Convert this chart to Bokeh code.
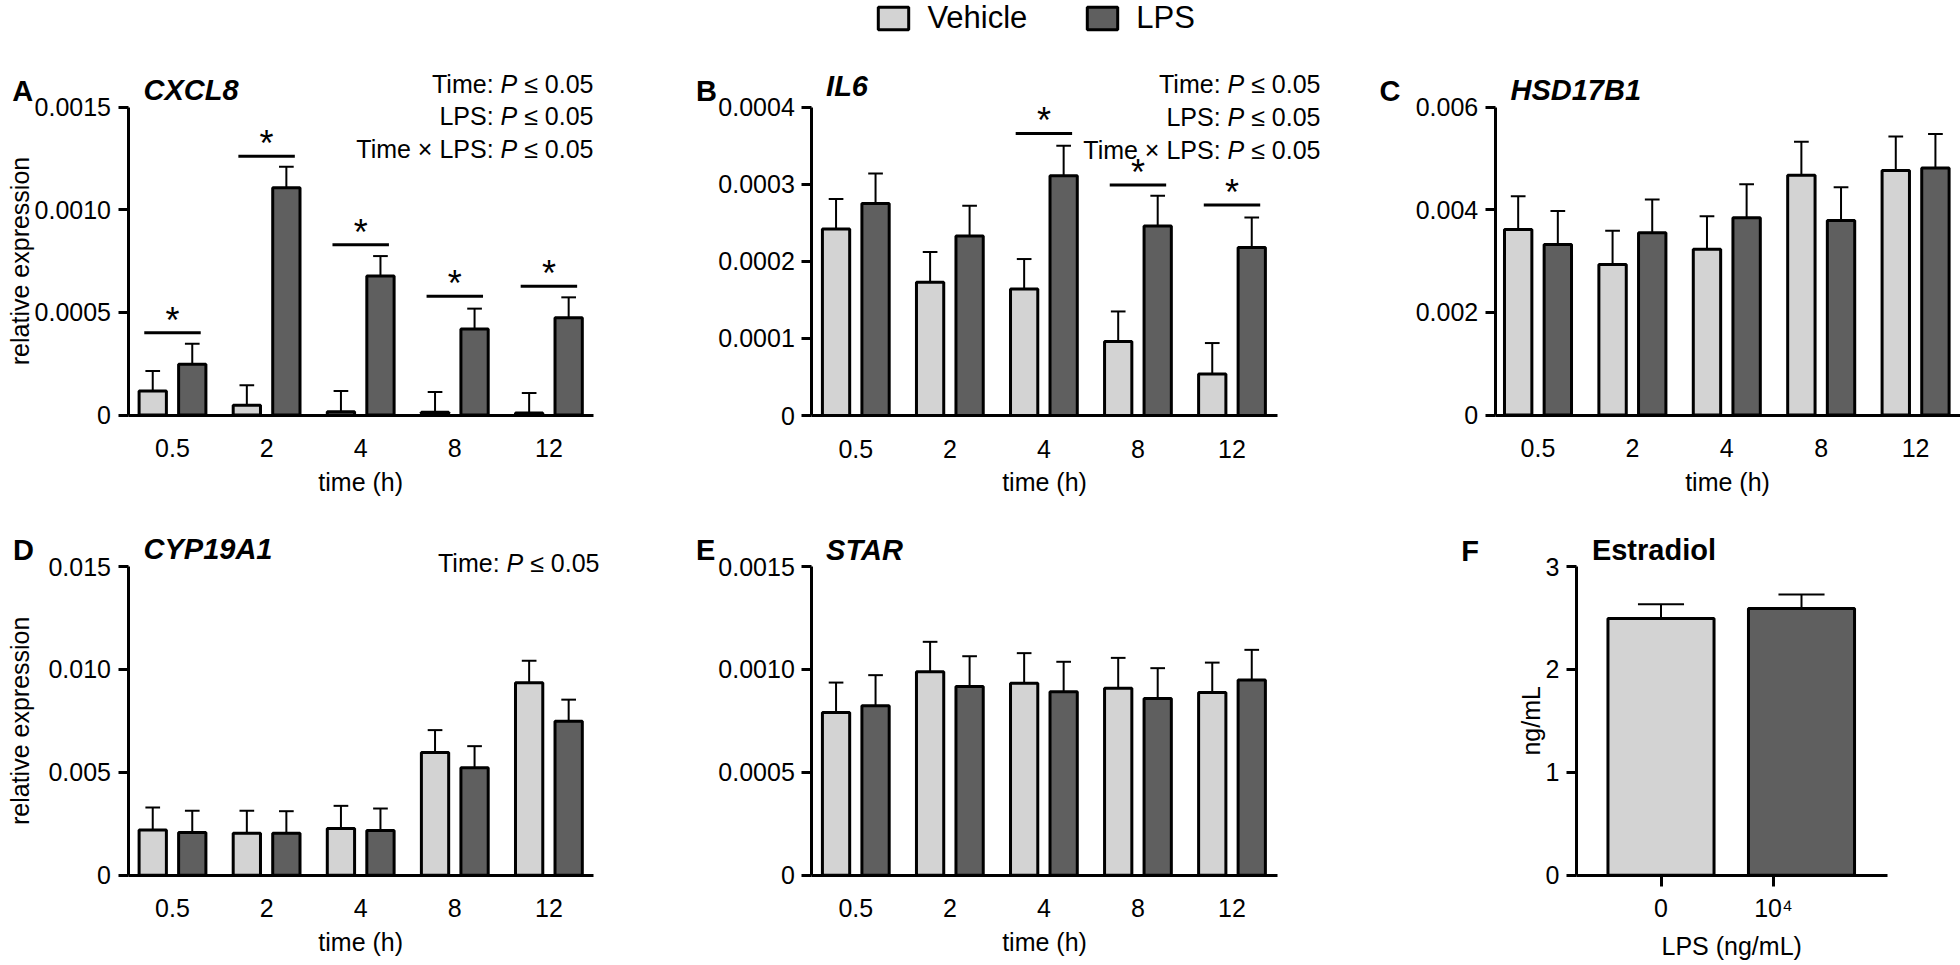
import math
from bokeh.plotting import figure
from bokeh.models import (Range1d, FixedTicker, Label, LabelSet, ColumnDataSource,
                          Legend, LegendItem, LinearAxis)
from bokeh.embed import file_html
from bokeh.resources import INLINE
from bokeh.core.properties import value

FONT = "Liberation Sans"
VEH_FILL = "#d3d3d3"
LPS_FILL = "#5f5f5f"

# ---------------- data ----------------
time_h = ["0.5", "2", "4", "8", "12"]

# A  CXCL8
cxcl8_vehicle = [0.000117, 0.000047, 0.000016, 0.000013, 0.000010]
cxcl8_vehicle_sem = [0.000097, 0.000098, 0.000101, 0.000099, 0.000097]
cxcl8_lps = [0.000247, 0.001107, 0.000677, 0.000419, 0.000474]
cxcl8_lps_sem = [0.000100, 0.000102, 0.000097, 0.000099, 0.000099]
cxcl8_sig_group = [0, 1, 2, 3, 4]
cxcl8_sig_level = [0.000401, 0.00126, 0.000829, 0.000578, 0.000627]

# B  IL6
il6_vehicle = [0.000242, 0.000173, 0.000164, 0.000096, 0.000054]
il6_vehicle_sem = [0.000039, 0.000039, 0.000039, 0.000039, 0.000040]
il6_lps = [0.000275, 0.000233, 0.000311, 0.000246, 0.000218]
il6_lps_sem = [0.000039, 0.000039, 0.000039, 0.000039, 0.000039]
il6_sig_group = [2, 3, 4]
il6_sig_level = [0.000366, 0.000299, 0.000273]

# C  HSD17B1
hsd_vehicle = [0.003614, 0.002933, 0.003231, 0.004670, 0.004765]
hsd_vehicle_sem = [0.000648, 0.000654, 0.000642, 0.000652, 0.000658]
hsd_lps = [0.003322, 0.003548, 0.003843, 0.003787, 0.004812]
hsd_lps_sem = [0.000654, 0.000650, 0.000650, 0.000650, 0.000660]

# D  CYP19A1
cyp_vehicle = [0.00220, 0.00204, 0.00227, 0.00596, 0.00935]
cyp_vehicle_sem = [0.00109, 0.00109, 0.00110, 0.00109, 0.00107]
cyp_lps = [0.00207, 0.00204, 0.00217, 0.00522, 0.00748]
cyp_lps_sem = [0.00106, 0.00107, 0.00107, 0.00105, 0.00105]

# E  STAR
star_vehicle = [0.000790, 0.000988, 0.000933, 0.000909, 0.000888]
star_vehicle_sem = [0.000146, 0.000146, 0.000146, 0.000147, 0.000145]
star_lps = [0.000823, 0.000917, 0.000891, 0.000859, 0.000949]
star_lps_sem = [0.000149, 0.000147, 0.000146, 0.000147, 0.000146]

# F  Estradiol
estradiol_groups = ["0", "10\u2074"]
estradiol_mean = [2.495, 2.592]
estradiol_sem = [0.139, 0.136]

# axis ticks / labels
ticks_A = [0, 0.0005, 0.001, 0.0015]
labels_A = ["0", "0.0005", "0.0010", "0.0015"]
ticks_B = [0, 0.0001, 0.0002, 0.0003, 0.0004]
labels_B = ["0", "0.0001", "0.0002", "0.0003", "0.0004"]
ticks_C = [0, 0.002, 0.004, 0.006]
labels_C = ["0", "0.002", "0.004", "0.006"]
ticks_D = [0, 0.005, 0.01, 0.015]
labels_D = ["0", "0.005", "0.010", "0.015"]
ticks_E = [0, 0.0005, 0.001, 0.0015]
labels_E = ["0", "0.0005", "0.0010", "0.0015"]
ticks_F = [0, 1, 2, 3]
labels_F = ["0", "1", "2", "3"]
group_ticks = [0, 1, 2, 3, 4]
estradiol_ticks = [0, 0.8]

# ---------------- canvas ----------------
W, H = 1960, 965
p = figure(width=W, height=H, x_range=Range1d(0, W), y_range=Range1d(H, 0),
           x_axis_type=None, y_axis_type=None, output_backend="svg",
           toolbar_location=None, min_border=0, min_border_left=0,
           min_border_right=0, min_border_top=0, min_border_bottom=0)
p.outline_line_color = None
p.background_fill_color = "white"
p.border_fill_color = "white"

TICK_PX = "25px"
R2 = -8  # vertical shift of the lower row so that its bottom texts stay on the page


def add_panel(name, x0px, ppx, y0px, ppy):
    """Register a panel's own scales: x0px/y0px = pixel of data 0, pp = pixels per unit."""
    p.extra_x_ranges[name + "_x"] = Range1d((0 - x0px) / ppx, (W - x0px) / ppx)
    p.extra_y_ranges[name + "_y"] = Range1d((y0px - H) / ppy, y0px / ppy)
    return dict(x_range_name=name + "_x", y_range_name=name + "_y")


def style_axis(ax):
    ax.axis_line_width = 3
    ax.axis_line_color = "black"
    ax.major_tick_line_width = 3
    ax.major_tick_line_color = "black"
    ax.minor_tick_line_color = None
    ax.major_tick_in = 0
    ax.major_label_text_font = FONT
    ax.major_label_text_font_size = TICK_PX
    ax.major_label_text_color = "black"


def add_axes(rn, yaxis_px, ybounds, yticks, ylabels, xaxis_py, xbounds, xticks, xlabels,
             x_tick_out=0, x_standoff=24):
    ya = LinearAxis(y_range_name=rn["y_range_name"], fixed_location=yaxis_px, bounds=ybounds,
                    ticker=FixedTicker(ticks=yticks),
                    major_label_overrides=dict(zip(yticks, ylabels)))
    style_axis(ya)
    ya.major_tick_out = 10
    ya.major_label_standoff = 7
    p.add_layout(ya, "left")
    xa = LinearAxis(x_range_name=rn["x_range_name"], fixed_location=xaxis_py, bounds=xbounds,
                    ticker=FixedTicker(ticks=xticks),
                    major_label_overrides=dict(zip(xticks, xlabels)))
    style_axis(xa)
    xa.major_tick_out = x_tick_out
    xa.major_label_standoff = x_standoff
    p.add_layout(xa, "below")


def draw_bars(rn, xs, vals, sems, fill, width, cap):
    tops = [v + s for v, s in zip(vals, sems)]
    p.segment(x0=xs, y0=vals, x1=xs, y1=tops, line_color="black", line_width=2, **rn)
    p.segment(x0=[x - cap / 2 for x in xs], y0=tops, x1=[x + cap / 2 for x in xs], y1=tops,
              line_color="black", line_width=2, **rn)
    return p.vbar(x=xs, top=vals, bottom=0, width=width, fill_color=fill,
                  line_color="black", line_width=3, **rn)


def grouped(rn, veh, veh_sem, lps, lps_sem):
    idx = list(range(len(veh)))
    rv = draw_bars(rn, [i - 0.21 for i in idx], veh, veh_sem, VEH_FILL, 0.29, 0.156)
    rl = draw_bars(rn, [i + 0.21 for i in idx], lps, lps_sem, LPS_FILL, 0.29, 0.156)
    return rv, rl


def sig(rn, groups, levels):
    p.segment(x0=[g - 0.3 for g in groups], y0=levels, x1=[g + 0.3 for g in groups],
              y1=levels, line_color="black", line_width=3, **rn)
    src = ColumnDataSource(dict(x=groups, y=levels, t=["*"] * len(groups)))
    p.add_layout(LabelSet(x="x", y="y", text="t", source=src, text_align="center",
                          text_baseline="alphabetic", text_font=value(FONT),
                          text_font_size="36px", text_color="black", **rn))


def txt(x, y, text, size, style="normal", align="left", angle=0.0, x_offset=0):
    p.add_layout(Label(x=x, y=y, text=text, text_font=FONT, text_font_size=f"{size}px",
                       text_font_style=style, text_align=align, text_baseline="alphabetic",
                       angle=angle, x_offset=x_offset, text_color="black"))


def stats(right_px, rows):
    for prefix, base in rows:
        txt(right_px, base, "\u2264 0.05", 25, align="right")
        txt(right_px, base, "P", 25, style="italic", align="right", x_offset=-76.3)
        txt(right_px, base, prefix, 25, align="right", x_offset=-99.9)


LETTER = 29
TITLE = 29
AXT = 25

# ---------------- A  CXCL8 ----------------
rA = add_panel("A", 172.0, 94.1, 414.5, 308.0 / 0.0015)
add_axes(rA, 127.5, (0, 0.0015), ticks_A, labels_A, 414.5,
         ((127.5 - 172.0) / 94.1, (593.0 - 172.0) / 94.1), group_ticks, time_h)
grouped(rA, cxcl8_vehicle, cxcl8_vehicle_sem, cxcl8_lps, cxcl8_lps_sem)
sig(rA, cxcl8_sig_group, cxcl8_sig_level)
txt(11.7, 90, "A", LETTER, style="bold")
txt(143, 89, "CXCL8", TITLE, style="bold italic")
stats(593, [("Time:", 83.3), ("LPS:", 115.7), ("Time \u00d7 LPS:", 148)])
txt(19.5, 260.5, "relative expression", AXT, align="center", angle=math.pi / 2)
txt(360.2, 481, "time (h)", AXT, align="center")

# ---------------- B  IL6 ----------------
rB = add_panel("B", 855.3, 94.05, 415.0, 308.3 / 0.0004)
add_axes(rB, 811.3, (0, 0.0004), ticks_B, labels_B, 415.0,
         ((811.3 - 855.3) / 94.05, (1276.6 - 855.3) / 94.05), group_ticks, time_h)
rvB, rlB = grouped(rB, il6_vehicle, il6_vehicle_sem, il6_lps, il6_lps_sem)
sig(rB, il6_sig_group, il6_sig_level)
txt(695.5, 90, "B", LETTER, style="bold")
txt(825.6, 85, "IL6", TITLE, style="bold italic")
stats(1320, [("Time:", 83.3), ("LPS:", 116.7), ("Time \u00d7 LPS:", 149)])
txt(1044, 481, "time (h)", AXT, align="center")

legend = Legend(items=[LegendItem(label=value("Vehicle"), renderers=[rvB]),
                       LegendItem(label=value("LPS"), renderers=[rlB])],
                orientation="horizontal", location=(874.4, H - 36),
                glyph_width=38, glyph_height=28, label_standoff=15, spacing=56,
                padding=0, margin=0, label_text_font=FONT, label_text_font_size="31px",
                label_text_color="black", border_line_color=None, background_fill_alpha=0)
p.add_layout(legend)

# ---------------- C  HSD17B1 ----------------
rC = add_panel("C", 1537.5, 94.4, 414.5, 308.0 / 0.006)
add_axes(rC, 1494.7, (0, 0.006), ticks_C, labels_C, 414.5,
         ((1494.7 - 1537.5) / 94.4, (1960 - 1537.5) / 94.4), group_ticks, time_h)
grouped(rC, hsd_vehicle, hsd_vehicle_sem, hsd_lps, hsd_lps_sem)
txt(1379, 90, "C", LETTER, style="bold")
txt(1510, 89, "HSD17B1", TITLE, style="bold italic")
txt(1727, 481, "time (h)", AXT, align="center")

# ---------------- D  CYP19A1 ----------------
Y0 = 882.7 + R2
rD = add_panel("D", 172.0, 94.1, Y0, 308.7 / 0.015)
add_axes(rD, 127.5, (0, 0.015), ticks_D, labels_D, Y0,
         ((127.5 - 172.0) / 94.1, (593.0 - 172.0) / 94.1), group_ticks, time_h)
grouped(rD, cyp_vehicle, cyp_vehicle_sem, cyp_lps, cyp_lps_sem)
txt(12.4, 557.3 + R2, "D", LETTER, style="bold")
txt(143, 556.7 + R2, "CYP19A1", TITLE, style="bold italic")
stats(599, [("Time:", 570 + R2)])
txt(19.5, 728.3 + R2, "relative expression", AXT, align="center", angle=math.pi / 2)
txt(360.2, 949 + R2, "time (h)", AXT, align="center")

# ---------------- E  STAR ----------------
rE = add_panel("E", 855.3, 94.05, Y0, 308.7 / 0.0015)
add_axes(rE, 811.3, (0, 0.0015), ticks_E, labels_E, Y0,
         ((811.3 - 855.3) / 94.05, (1276.6 - 855.3) / 94.05), group_ticks, time_h)
grouped(rE, star_vehicle, star_vehicle_sem, star_lps, star_lps_sem)
txt(695.5, 557 + R2, "E", LETTER, style="bold")
txt(825.6, 557 + R2, "STAR", TITLE, style="bold italic")
txt(1044, 949 + R2, "time (h)", AXT, align="center")

# ---------------- F  Estradiol ----------------
rF = add_panel("F", 1660.5, 140.5, Y0, 308.7 / 3.0)
add_axes(rF, 1576.0, (0, 3), ticks_F, labels_F, Y0,
         ((1576.0 - 1660.5) / 140.5, (1886.5 - 1660.5) / 140.5), estradiol_ticks,
         estradiol_groups, x_tick_out=11, x_standoff=8)
fx = list(range(len(estradiol_mean)))
ftops = [m + s for m, s in zip(estradiol_mean, estradiol_sem)]
p.segment(x0=fx, y0=estradiol_mean, x1=fx, y1=ftops, line_color="black", line_width=2, **rF)
p.segment(x0=[x - 0.164 for x in fx], y0=ftops, x1=[x + 0.164 for x in fx], y1=ftops,
          line_color="black", line_width=2, **rF)
p.vbar(x=fx, top=estradiol_mean, bottom=0, width=0.755,
       fill_color=[VEH_FILL, LPS_FILL], line_color="black", line_width=3, **rF)
txt(1460.8, 558 + R2, "F", LETTER, style="bold")
txt(1591.4, 557 + R2, "Estradiol", TITLE, style="bold")
txt(1530, 728.3 + R2, "ng/mL", AXT, align="center", angle=math.pi / 2)
txt(1731.2, 945, "LPS (ng/mL)", AXT, align="center")

open("out.html", "w").write(file_html(p, INLINE))
